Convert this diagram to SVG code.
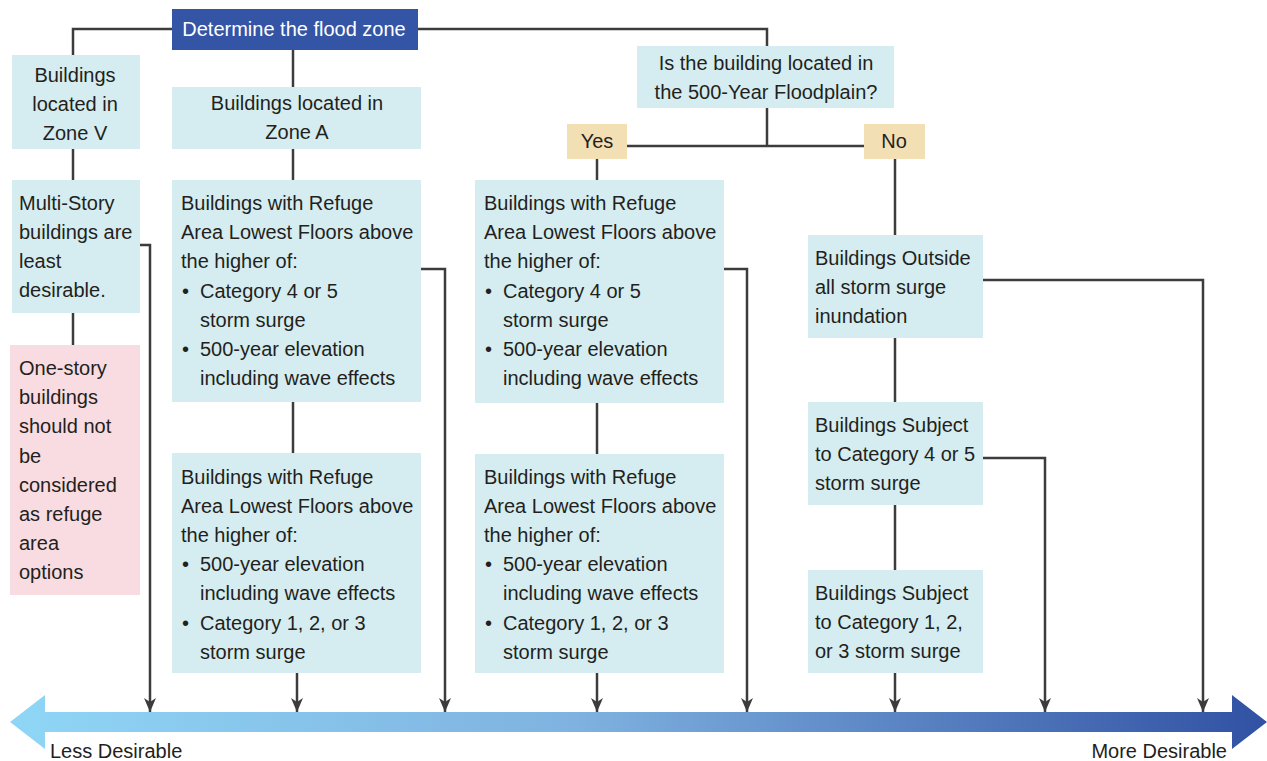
<svg xmlns="http://www.w3.org/2000/svg" width="1267" height="761" viewBox="0 0 1267 761">
<defs>
<linearGradient id="g" x1="0" y1="0" x2="1" y2="0">
<stop offset="0" stop-color="#8fd6f6"/>
<stop offset="0.45" stop-color="#7fb2e0"/>
<stop offset="1" stop-color="#3151a3"/>
</linearGradient>
<marker id="ah" markerWidth="14" markerHeight="12" refX="14" refY="6" orient="auto" markerUnits="userSpaceOnUse" viewBox="0 0 14 12">
<path d="M0,0 L4,6 L0,12 L14,6 Z" fill="#3c3c3c"/>
</marker>
<style>
.b{fill:#d5edf0}
.p{fill:#f9dce1}
.t{fill:#f2dfb4}
.h{fill:#3454a5}
text{font-family:"Liberation Sans",Arial,sans-serif;font-size:20px;fill:#231f20}
.c{text-anchor:middle}
.w{fill:#ffffff}
.ln{fill:none;stroke:#3c3c3c;stroke-width:2.5}
</style>
</defs>
<g id="connectors">
<path class="ln" d="M172,29 H73 V55"/>
<path class="ln" d="M418,29 H767 V46"/>
<path class="ln" d="M293,50 V87"/>
<path class="ln" d="M73,149 V180"/>
<path class="ln" d="M73,313 V345"/>
<path class="ln" d="M140,245 H150 V712" marker-end="url(#ah)"/>
<path class="ln" d="M293,149 V180"/>
<path class="ln" d="M293,402 V453"/>
<path class="ln" d="M421,269 H445 V712" marker-end="url(#ah)"/>
<path class="ln" d="M297,673 V712" marker-end="url(#ah)"/>
<path class="ln" d="M767,108 V146"/>
<path class="ln" d="M627,146 H864"/>
<path class="ln" d="M597,159 V180"/>
<path class="ln" d="M597,403 V454"/>
<path class="ln" d="M724,269 H747 V712" marker-end="url(#ah)"/>
<path class="ln" d="M597,673 V712" marker-end="url(#ah)"/>
<path class="ln" d="M895,159 V235"/>
<path class="ln" d="M895,338 V402"/>
<path class="ln" d="M895,505 V570"/>
<path class="ln" d="M983,280 H1203 V712" marker-end="url(#ah)"/>
<path class="ln" d="M983,458 H1045 V712" marker-end="url(#ah)"/>
<path class="ln" d="M895,673 V712" marker-end="url(#ah)"/>
</g>
<g id="scale">
<path d="M10,722 L45,695 L45,712 L1232,712 L1232,695 L1267,722 L1232,749 L1232,732 L45,732 L45,749 Z" fill="url(#g)"/>
<text x="50" y="758">Less Desirable</text>
<text x="1227" y="758" text-anchor="end">More Desirable</text>
</g>
<g id="n-title">
<rect class="h" x="172" y="9" width="246" height="41"/>
<text class="c w" x="294" y="36">Determine the flood zone</text>
</g>
<g id="n-zonev">
<rect class="b" x="12" y="55" width="128" height="94"/>
<text class="c" x="75" y="82">Buildings</text>
<text class="c" x="75" y="111">located in</text>
<text class="c" x="75" y="140">Zone V</text>
</g>
<g id="n-zonea">
<rect class="b" x="172" y="87" width="249" height="62"/>
<text class="c" x="297" y="110">Buildings located in</text>
<text class="c" x="297" y="139">Zone A</text>
</g>
<g id="n-multi">
<rect class="b" x="12" y="180" width="128" height="133"/>
<text x="19" y="210">Multi-Story</text>
<text x="19" y="239">buildings are</text>
<text x="19" y="268">least</text>
<text x="19" y="297">desirable.</text>
</g>
<g id="n-onestory">
<rect class="p" x="10" y="345" width="130" height="250"/>
<text x="19" y="375">One-story</text>
<text x="19" y="404">buildings</text>
<text x="19" y="433">should not</text>
<text x="19" y="463">be</text>
<text x="19" y="492">considered</text>
<text x="19" y="521">as refuge</text>
<text x="19" y="550">area</text>
<text x="19" y="579">options</text>
</g>
<g id="n-a1">
<rect class="b" x="172" y="180" width="249" height="222"/>
<text x="181" y="210">Buildings with Refuge</text>
<text x="181" y="239">Area Lowest Floors above</text>
<text x="181" y="268">the higher of:</text>
<text x="182" y="298">•</text><text x="200" y="298">Category 4 or 5</text>
<text x="200" y="327">storm surge</text>
<text x="182" y="356">•</text><text x="200" y="356">500-year elevation</text>
<text x="200" y="385">including wave effects</text>
</g>
<g id="n-a2">
<rect class="b" x="172" y="453" width="249" height="220"/>
<text x="181" y="484">Buildings with Refuge</text>
<text x="181" y="513">Area Lowest Floors above</text>
<text x="181" y="542">the higher of:</text>
<text x="182" y="571">•</text><text x="200" y="571">500-year elevation</text>
<text x="200" y="600">including wave effects</text>
<text x="182" y="630">•</text><text x="200" y="630">Category 1, 2, or 3</text>
<text x="200" y="659">storm surge</text>
</g>
<g id="n-500">
<rect class="b" x="637" y="46" width="257" height="62"/>
<text class="c" x="766" y="70">Is the building located in</text>
<text class="c" x="766" y="99">the 500-Year Floodplain?</text>
</g>
<g id="n-yes">
<rect class="t" x="567" y="124" width="60" height="35"/>
<text class="c" x="597" y="148">Yes</text>
</g>
<g id="n-no">
<rect class="t" x="864" y="124" width="61" height="35"/>
<text class="c" x="894" y="148">No</text>
</g>
<g id="n-y1">
<rect class="b" x="475" y="180" width="249" height="223"/>
<text x="484" y="210">Buildings with Refuge</text>
<text x="484" y="239">Area Lowest Floors above</text>
<text x="484" y="268">the higher of:</text>
<text x="485" y="298">•</text><text x="503" y="298">Category 4 or 5</text>
<text x="503" y="327">storm surge</text>
<text x="485" y="356">•</text><text x="503" y="356">500-year elevation</text>
<text x="503" y="385">including wave effects</text>
</g>
<g id="n-y2">
<rect class="b" x="475" y="454" width="249" height="219"/>
<text x="484" y="484">Buildings with Refuge</text>
<text x="484" y="513">Area Lowest Floors above</text>
<text x="484" y="542">the higher of:</text>
<text x="485" y="571">•</text><text x="503" y="571">500-year elevation</text>
<text x="503" y="600">including wave effects</text>
<text x="485" y="630">•</text><text x="503" y="630">Category 1, 2, or 3</text>
<text x="503" y="659">storm surge</text>
</g>
<g id="n-n1">
<rect class="b" x="808" y="235" width="175" height="103"/>
<text x="815" y="265">Buildings Outside</text>
<text x="815" y="294">all storm surge</text>
<text x="815" y="323">inundation</text>
</g>
<g id="n-n2">
<rect class="b" x="808" y="402" width="175" height="103"/>
<text x="815" y="432">Buildings Subject</text>
<text x="815" y="461">to Category 4 or 5</text>
<text x="815" y="490">storm surge</text>
</g>
<g id="n-n3">
<rect class="b" x="808" y="570" width="175" height="103"/>
<text x="815" y="600">Buildings Subject</text>
<text x="815" y="629">to Category 1, 2,</text>
<text x="815" y="658">or 3 storm surge</text>
</g>
</svg>
